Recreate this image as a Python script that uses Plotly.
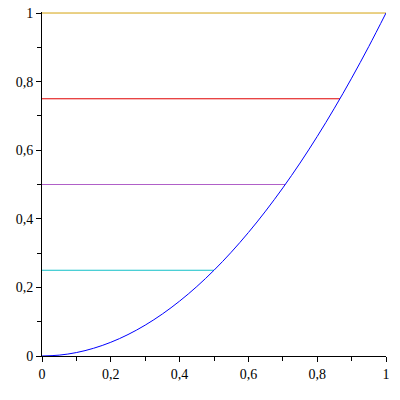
import plotly.graph_objects as go

# Curve values
curve_x = [0, 0.05, 0.1, 0.15, 0.2, 0.25, 0.3, 0.35, 0.4, 0.45, 0.5, 0.55, 0.6, 0.65, 0.7, 0.75, 0.8, 0.85, 0.9, 0.95, 1.0]
curve_y = [0, 0.0025, 0.01, 0.0225, 0.04, 0.0625, 0.09, 0.1225, 0.16, 0.2025, 0.25, 0.3025, 0.36, 0.4225, 0.49, 0.5625, 0.64, 0.7225, 0.81, 0.9025, 1.0]

# Horizontal levels and where they meet the curve
level_y = [1.0, 0.75, 0.5, 0.25]
level_end_x = [1.0, 0.866, 0.707, 0.5]
level_colors = ["#D4A20E", "#E00000", "#B060C8", "#10C0C8"]

x_ticks = [0, 0.2, 0.4, 0.6, 0.8, 1]
x_labels = ["0", "0,2", "0,4", "0,6", "0,8", "1"]
y_ticks = [0, 0.2, 0.4, 0.6, 0.8, 1]
y_labels = ["0", "0,2", "0,4", "0,6", "0,8", "1"]

fig = go.Figure()
for yv, xe, c in zip(level_y, level_end_x, level_colors):
    fig.add_trace(go.Scatter(x=[0, xe], y=[yv, yv], mode="lines",
                             line=dict(color=c, width=1), showlegend=False, hoverinfo="skip"))
fig.add_trace(go.Scatter(x=curve_x, y=curve_y, mode="lines", line=dict(color="#0000FF", width=1, shape="spline"),
                         showlegend=False))

font = dict(family="Liberation Serif", size=14, color="black")
fig.update_layout(
    width=400, height=400,
    margin=dict(l=42, r=14, t=12, b=44),
    paper_bgcolor="white", plot_bgcolor="white",
    font=font,
    xaxis=dict(range=[0, 1.0], automargin=False, showgrid=False, zeroline=False, showline=True,
               linecolor="black", linewidth=1,
               ticks="outside", ticklen=5, tickcolor="black", tickvals=x_ticks, ticktext=x_labels,
               minor=dict(ticks="outside", ticklen=4, tickcolor="black", dtick=0.1, tick0=0, showgrid=False),
               tickfont=font),
    yaxis=dict(range=[0, 1.003], automargin=False, showgrid=False, zeroline=False, showline=True,
               linecolor="black", linewidth=1,
               ticks="outside", ticklen=5, tickcolor="black", tickvals=y_ticks, ticktext=y_labels,
               minor=dict(ticks="outside", ticklen=4, tickcolor="black", dtick=0.1, tick0=0, showgrid=False),
               tickfont=font),
)
fig.write_html("out.html")
